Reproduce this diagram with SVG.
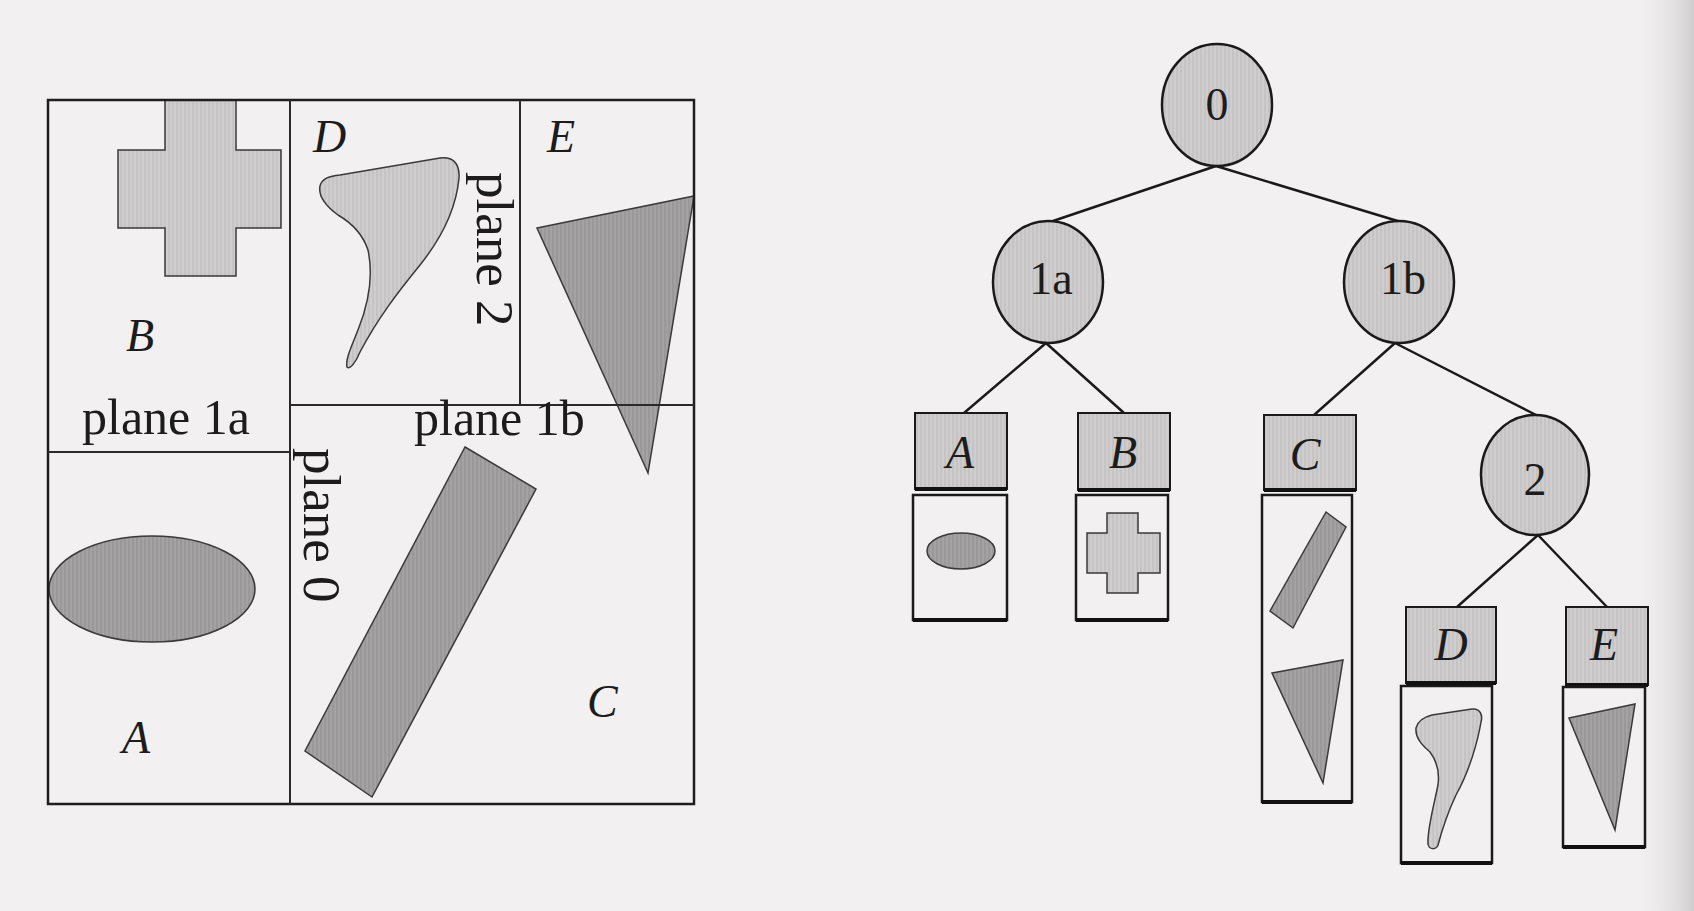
<svg xmlns="http://www.w3.org/2000/svg" width="1694" height="911" viewBox="0 0 1694 911">
<defs>
<pattern id="lt" width="4" height="4" patternUnits="userSpaceOnUse"><rect width="4" height="4" fill="#cfcdce"/><rect width="2" height="4" fill="#c5c3c4"/></pattern>
<pattern id="dk" width="4" height="4" patternUnits="userSpaceOnUse"><rect width="4" height="4" fill="#a4a2a3"/><rect width="2" height="4" fill="#9a9899"/></pattern>
<linearGradient id="edge" x1="0" y1="0" x2="1" y2="0"><stop offset="0" stop-color="#f2f0f1" stop-opacity="0"/><stop offset="1" stop-color="#cfcdce"/></linearGradient>
<style>
.bg{fill:#f2f0f1}
.frame{fill:none;stroke:#1e1e1e;stroke-width:2.5}
.plane{stroke:#2a2a2a;stroke-width:2;fill:none}
.light{fill:url(#lt);stroke:#3a3a3a;stroke-width:1.5}
.dark{fill:url(#dk);stroke:#3a3a3a;stroke-width:1.5}
.lbl{font-family:"Liberation Serif","Times New Roman",serif;font-style:italic;font-size:46px;fill:#1c1c1c}
.pl{font-family:"Liberation Serif","Times New Roman",serif;font-size:50px;fill:#1c1c1c}
.plv{font-family:"Liberation Serif","Times New Roman",serif;font-size:53px;fill:#1c1c1c}
.nl{font-family:"Liberation Serif","Times New Roman",serif;font-size:46px;fill:#1c1c1c;text-anchor:middle}
.node{fill:url(#lt);stroke:#1a1a1a;stroke-width:2.5}
.hdr{fill:url(#lt);stroke:#1a1a1a;stroke-width:2}
.cnt{fill:none;stroke:#1a1a1a;stroke-width:2.5}
.thick{stroke:#111;stroke-width:4}
.edge{stroke:#1a1a1a;stroke-width:2.5;fill:none}
</style>
</defs>
<rect class="bg" x="0" y="0" width="1694" height="911"/>
<rect x="1630" y="0" width="64" height="911" fill="url(#edge)"/>

<g id="space">
  <g id="shapes">
    <path class="light" d="M165,100 L236,100 L236,150 L281,150 L281,228 L236,228 L236,276 L165,276 L165,228 L118,228 L118,150 L165,150 Z"/>
    <ellipse class="dark" cx="152" cy="589" rx="103" ry="53"/>
    <polygon class="dark" points="465,447 536,489 372,797 305,751"/>
    <polygon class="dark" points="537,228 694,196 648,473"/>
    <path class="light" d="M320,186 C322,178 330,176 340,175 L440,158 C452,156 460,163 459,178 C457,200 448,230 420,265 C398,292 378,318 360,352 C356,362 350,370 347,367 C345,360 352,345 358,330 C368,305 374,278 368,250 C362,232 350,222 338,215 C326,206 318,196 320,186 Z"/>
  </g>
  <g id="planes">
    <rect class="frame" x="48" y="100" width="646" height="704"/>
    <line class="plane" x1="290" y1="100" x2="290" y2="804"/>
    <line class="plane" x1="48" y1="452" x2="290" y2="452"/>
    <line class="plane" x1="290" y1="405" x2="694" y2="405"/>
    <line class="plane" x1="520" y1="100" x2="520" y2="405"/>
  </g>
  <g id="space-labels">
    <text class="lbl" x="313" y="152">D</text>
    <text class="lbl" x="547" y="152">E</text>
    <text class="lbl" x="126" y="351">B</text>
    <text class="lbl" x="122" y="753">A</text>
    <text class="lbl" x="587" y="717">C</text>
    <text class="pl" x="82" y="434">plane 1a</text>
    <text class="pl" x="414" y="435">plane 1b</text>
    <text class="plv" transform="translate(477,172) rotate(90)">plane 2</text>
    <text class="plv" transform="translate(304,448) rotate(90)">plane 0</text>
  </g>
</g>

<g id="connectors">
  <line class="edge" x1="1216" y1="166" x2="1053" y2="221"/>
  <line class="edge" x1="1216" y1="166" x2="1401" y2="222"/>
  <line class="edge" x1="1046" y1="343" x2="964" y2="413"/>
  <line class="edge" x1="1046" y1="343" x2="1124" y2="413"/>
  <line class="edge" x1="1395" y1="343" x2="1314" y2="415"/>
  <line class="edge" x1="1395" y1="343" x2="1538" y2="416"/>
  <line class="edge" x1="1538" y1="535" x2="1457" y2="607"/>
  <line class="edge" x1="1538" y1="535" x2="1607" y2="607"/>
</g>

<g id="node-0"><ellipse class="node" cx="1217" cy="105" rx="55" ry="61"/><text class="nl" x="1217" y="120">0</text></g>
<g id="node-1a"><ellipse class="node" cx="1048" cy="282" rx="55" ry="61"/><text class="nl" x="1051" y="294">1a</text></g>
<g id="node-1b"><ellipse class="node" cx="1399" cy="282" rx="55" ry="61"/><text class="nl" x="1403" y="294">1b</text></g>
<g id="node-2"><ellipse class="node" cx="1535" cy="475" rx="54" ry="60"/><text class="nl" x="1535" y="495">2</text></g>

<g id="leaf-A">
  <rect class="hdr" x="915" y="413" width="92" height="76"/><line class="thick" x1="915" y1="489" x2="1007" y2="489"/>
  <text class="lbl" x="960" y="468" text-anchor="middle">A</text>
  <rect class="cnt" x="913" y="495" width="94" height="125"/><line class="thick" x1="913" y1="620" x2="1007" y2="620"/>
  <ellipse class="dark" cx="961" cy="551" rx="34" ry="18"/>
</g>
<g id="leaf-B">
  <rect class="hdr" x="1078" y="413" width="92" height="77"/><line class="thick" x1="1078" y1="490" x2="1170" y2="490"/>
  <text class="lbl" x="1123" y="468" text-anchor="middle">B</text>
  <rect class="cnt" x="1076" y="495" width="92" height="125"/><line class="thick" x1="1076" y1="620" x2="1168" y2="620"/>
  <path class="light" d="M1107,513 L1138,513 L1138,533 L1160,533 L1160,573 L1138,573 L1138,593 L1107,593 L1107,573 L1087,573 L1087,533 L1107,533 Z"/>
</g>
<g id="leaf-C">
  <rect class="hdr" x="1264" y="415" width="92" height="75"/><line class="thick" x1="1264" y1="490" x2="1356" y2="490"/>
  <text class="lbl" x="1305" y="470" text-anchor="middle">C</text>
  <rect class="cnt" x="1262" y="495" width="90" height="307"/><line class="thick" x1="1262" y1="802" x2="1352" y2="802"/>
  <polygon class="dark" points="1326,512 1346,527 1293,628 1270,611"/>
  <polygon class="dark" points="1272,673 1343,660 1323,783"/>
</g>
<g id="leaf-D">
  <rect class="hdr" x="1406" y="607" width="90" height="76"/><line class="thick" x1="1406" y1="683" x2="1496" y2="683"/>
  <text class="lbl" x="1451" y="660" text-anchor="middle">D</text>
  <rect class="cnt" x="1401" y="686" width="91" height="177"/><line class="thick" x1="1401" y1="863" x2="1492" y2="863"/>
  <path class="light" d="M1416,728 C1418,720 1424,717 1432,715 L1472,709 C1480,708 1483,715 1481,722 C1478,740 1470,770 1456,795 C1448,812 1442,830 1438,845 C1436,850 1429,850 1428,844 C1427,830 1434,805 1438,785 C1440,770 1436,760 1430,752 C1422,745 1415,738 1416,728 Z"/>
</g>
<g id="leaf-E">
  <rect class="hdr" x="1566" y="607" width="82" height="78"/><line class="thick" x1="1566" y1="685" x2="1648" y2="685"/>
  <text class="lbl" x="1604" y="660" text-anchor="middle">E</text>
  <rect class="cnt" x="1563" y="687" width="82" height="160"/><line class="thick" x1="1563" y1="847" x2="1645" y2="847"/>
  <polygon class="dark" points="1569,718 1635,704 1615,830"/>
</g>
</svg>
